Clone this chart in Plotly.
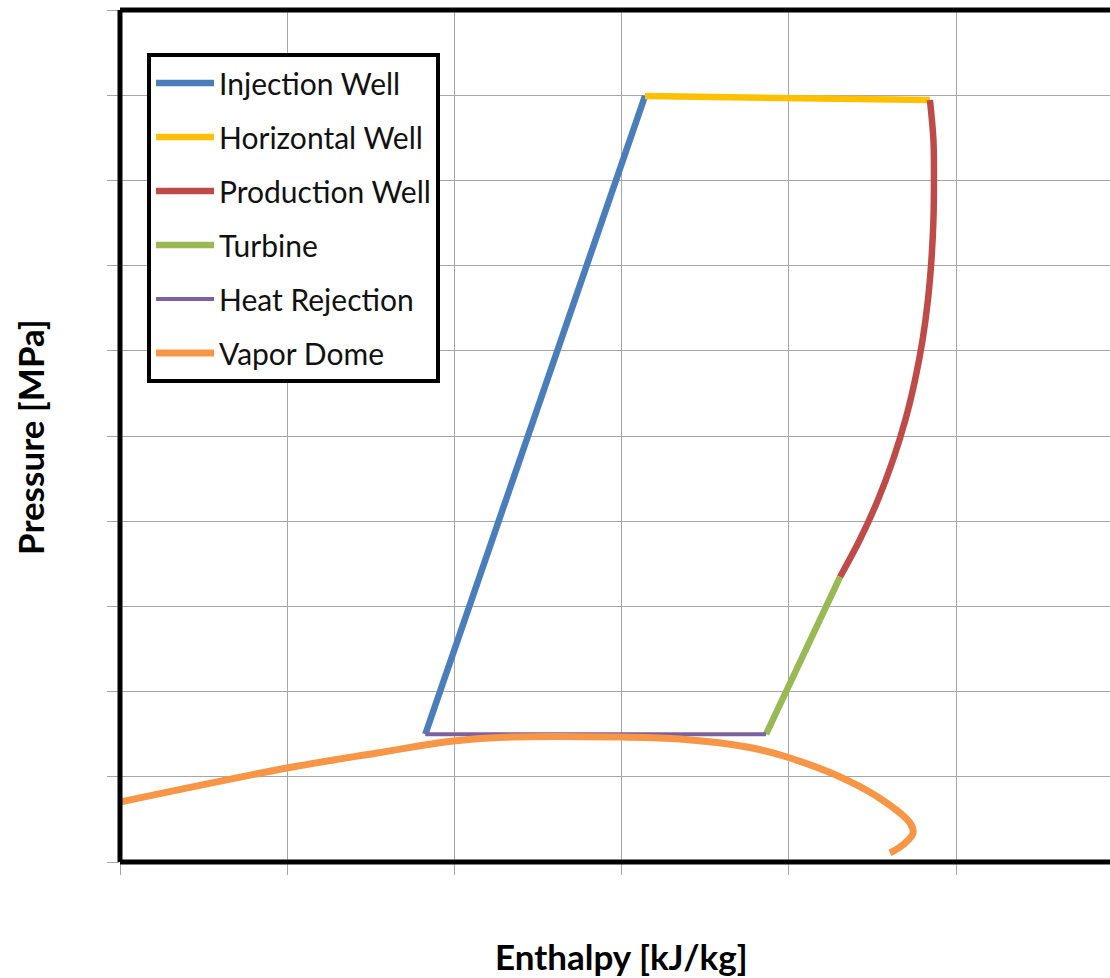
import plotly.graph_objects as go

# ---- data (enthalpy and pressure in grid units; axes carry no tick labels) ----
inj_h = [1.826, 3.140]
inj_p = [1.50, 8.99]

hor_h = [3.140, 4.844]
hor_p = [8.99, 8.944]

prod_h = [4.844, 4.865, 4.868, 4.865, 4.853, 4.832, 4.800, 4.755, 4.697, 4.623, 4.533, 4.424, 4.306]
prod_p = [8.944, 8.474, 8.005, 7.535, 7.066, 6.596, 6.127, 5.657, 5.188, 4.718, 4.249, 3.779, 3.345]

turb_h = [4.306, 3.864]
turb_p = [3.345, 1.50]

rej_h = [1.826, 3.864]
rej_p = [1.50, 1.50]

dome_h = [0.000, 0.999, 1.537, 1.992, 2.333, 2.990, 3.349, 3.750, 3.989, 4.348, 4.587, 4.725, 4.743, 4.683, 4.605]
dome_p = [0.704, 1.103, 1.279, 1.420, 1.467, 1.467, 1.444, 1.350, 1.232, 0.962, 0.692, 0.458, 0.340, 0.200, 0.106]

series = [
    ("Injection Well", inj_h, inj_p, "#4A7EBB", 6.5, "linear"),
    ("Horizontal Well", hor_h, hor_p, "#FFC000", 6.5, "linear"),
    ("Production Well", prod_h, prod_p, "#BE4B48", 6.5, "spline"),
    ("Turbine", turb_h, turb_p, "#98B954", 6.5, "linear"),
    ("Heat Rejection", rej_h, rej_p, "#7D60A0", 4, "linear"),
    ("Vapor Dome", dome_h, dome_p, "#F79646", 7, "spline"),
]

fig = go.Figure()
for i, (name, h, p, color, w, shape) in enumerate(series):
    fig.add_trace(go.Scatter(
        x=h, y=p, mode="lines", name=name, legendgroup=f"g{i}",
        line=dict(color=color, width=w, shape=shape),
    ))

grid = "#A6A6A6"
fig.update_layout(
    width=1110, height=978,
    margin=dict(l=120, r=0, t=10, b=116),
    plot_bgcolor="white", paper_bgcolor="white",
    showlegend=True,
    legend=dict(
        x=0.0273, y=0.9495, xanchor="left", yanchor="top",
        bgcolor="white", bordercolor="black", borderwidth=4,
        font=dict(family="Lato", size=30, color="#111111"),
        itemwidth=58, tracegroupgap=12,
    ),
    xaxis=dict(
        range=[0, 5.921], dtick=1, tick0=0, showgrid=True, gridcolor=grid, gridwidth=1,
        zeroline=False, showticklabels=False, ticks="outside", ticklen=12,
        tickcolor=grid, tickwidth=1, showline=False, fixedrange=True,
    ),
    yaxis=dict(
        range=[0, 10], dtick=1, tick0=0, showgrid=True, gridcolor=grid, gridwidth=1,
        zeroline=False, showticklabels=False, ticks="outside", ticklen=12,
        tickcolor=grid, tickwidth=1, showline=False, fixedrange=True,
    ),
    shapes=[
        dict(type="line", xref="paper", yref="paper", x0=0, x1=0, y0=0, y1=1,
             line=dict(color="black", width=5), layer="above"),
        dict(type="line", xref="paper", yref="paper", x0=0, x1=1, y0=1, y1=1,
             line=dict(color="black", width=5), layer="above"),
        dict(type="line", xref="paper", yref="paper", x0=0, x1=1, y0=0, y1=0,
             line=dict(color="black", width=5), layer="above"),
    ],
    annotations=[
        dict(text="<b>Enthalpy [kJ/kg]</b>", xref="paper", yref="paper",
             x=(621 - 120) / 990, y=-(956 - 862) / 852, xanchor="center", yanchor="middle",
             showarrow=False, font=dict(family="Lato", size=35, color="black")),
        dict(text="<b>Pressure [MPa]</b>", xref="paper", yref="paper",
             x=-(120 - 30) / 990, y=(862 - 437) / 852, xanchor="center", yanchor="middle",
             textangle=-90, showarrow=False, font=dict(family="Lato", size=35, color="black")),
    ],
)

fig.write_html("out.html", config={"displayModeBar": False},
               post_script="document.body.style.margin='0px';")
